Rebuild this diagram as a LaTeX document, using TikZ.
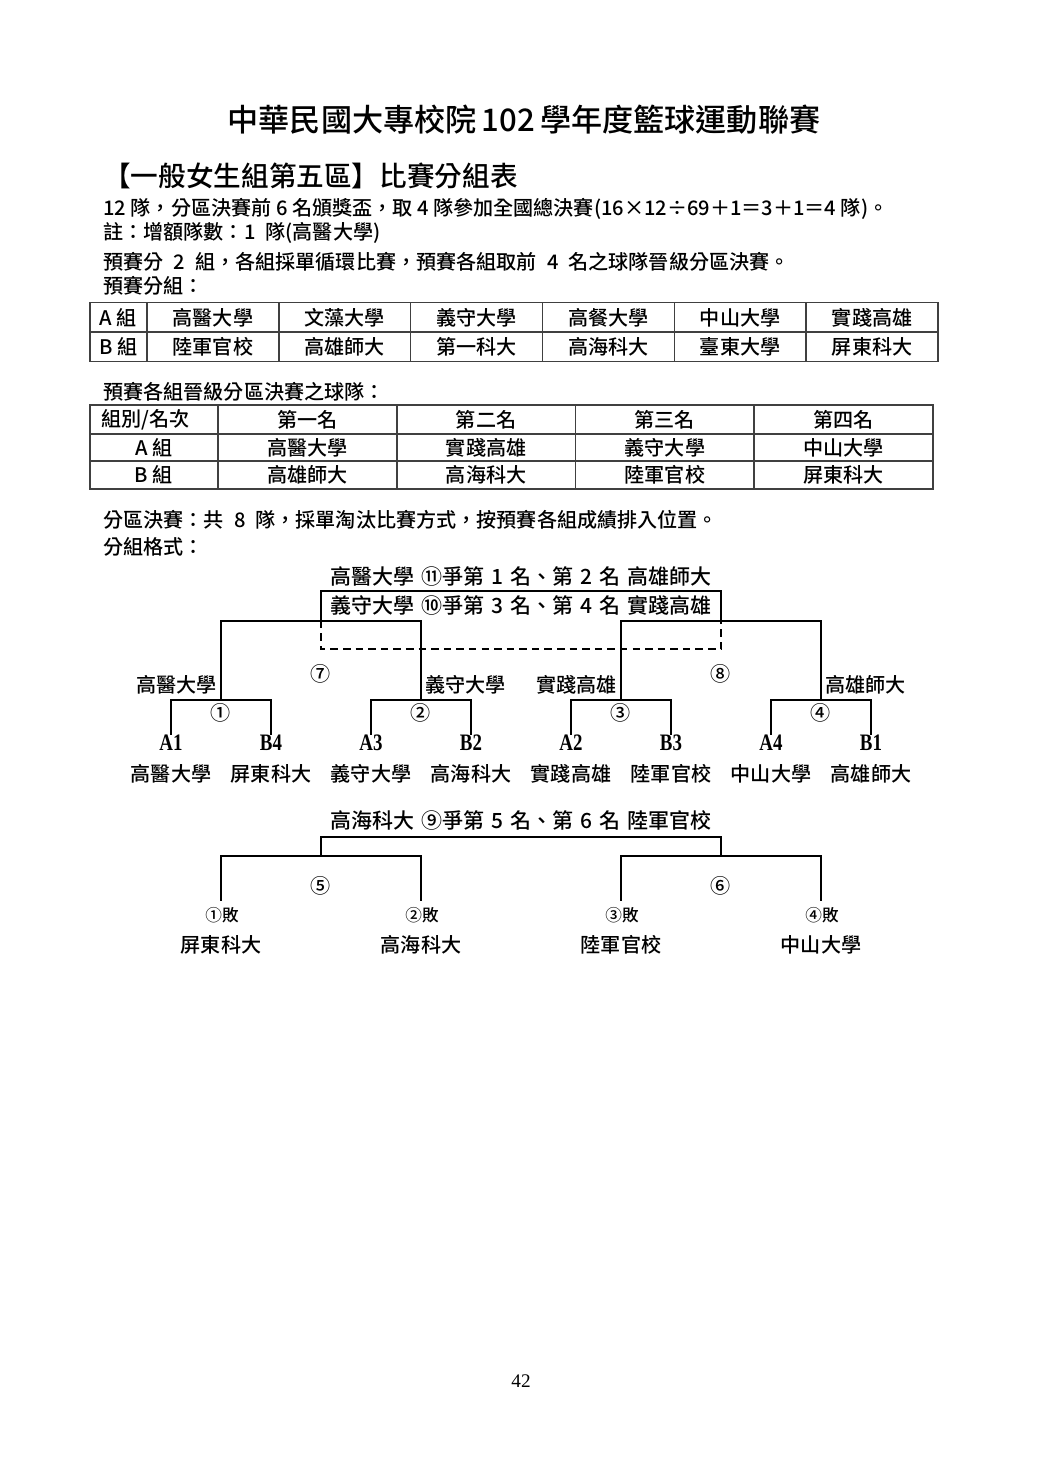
\documentclass[tikz,border=0pt]{standalone}
\usepackage{fontspec}
\setmainfont{Liberation Serif}
\newfontfamily\cjk{Noto Sans CJK TC Medium}
\newfontfamily\lat[FakeStretch=0.8]{Liberation Serif}
\newcommand{\gap}{\kern0.5em\relax}
\newcommand{\sgap}{\kern0.33em\relax}
\tikzset{
  txt/.style={inner sep=0pt, font=\cjk\fontsize{11.5}{14}\selectfont},
  lft/.style={txt, anchor=west},
  rgt/.style={txt, anchor=east},
  brtxt/.style={txt, font=\cjk\fontsize{12}{14}\selectfont},
  latn/.style={inner sep=0pt, font=\lat\bfseries\fontsize{13.5}{15}\selectfont},
  brk/.style={line width=1.1pt, line cap=rect},
  brkthick/.style={line width=1.7pt},
  tabline/.style={draw=black!75, line width=0.9pt},
  dashline/.style={line width=1.1pt, dash pattern=on 4.3pt off 2.9pt}
}
\begin{document}
\begin{tikzpicture}[x=0.572pt, y=-0.572pt]
\useasboundingbox (0,0) rectangle (1040,1473);
\fill[white] (0,0) rectangle (1040,1473);

% headings
\node[txt, font=\cjk\fontsize{17.8}{20}\selectfont] (title) at (524,120) {中華民國大專校院\,102\,學年度籃球運動聯賽};
\node[lft, font=\cjk\fontsize{15.8}{18}\selectfont] (head) at (103,176) {【一般女生組第五區】比賽分組表};
\node[lft] (l1) at (103,209) {12 隊，分區決賽前 6 名頒獎盃，取 4 隊參加全國總決賽(16×12÷69＋1＝3＋1＝4 隊)。};
\node[lft] (l2) at (103,233) {註：增額隊數：1\gap{}隊(高醫大學)};
\node[lft] (l3) at (103,262) {預賽分\gap{}2\gap{}組，各組採單循環比賽，預賽各組取前\gap{}4\gap{}名之球隊晉級分區決賽。};
\node[lft] (l4) at (103,286) {預賽分組：};

% table 1
\draw[tabline] (90,302.3) rectangle (938,361.7);
\draw[tabline] (90,332) -- (938,332);
\foreach \x in {147,278.8,410.7,542.5,674.3,806.2} \draw[tabline] (\x,302.3) -- (\x,361.7);
\node[txt] (ta) at (118.5,318) {A 組};
\node[txt] (tb) at (118.5,347) {B 組};
\node[txt] (ta1) at (212.9,318) {高醫大學};
\node[txt] (ta2) at (344.7,318) {文藻大學};
\node[txt] (ta3) at (476.6,318) {義守大學};
\node[txt] (ta4) at (608.4,318) {高餐大學};
\node[txt] (ta5) at (740.2,318) {中山大學};
\node[txt] (ta6) at (872.1,318) {實踐高雄};
\node[txt] (tb1) at (212.9,347) {陸軍官校};
\node[txt] (tb2) at (344.7,347) {高雄師大};
\node[txt] (tb3) at (476.6,347) {第一科大};
\node[txt] (tb4) at (608.4,347) {高海科大};
\node[txt] (tb5) at (740.2,347) {臺東大學};
\node[txt] (tb6) at (872.1,347) {屏東科大};

% table 2
\node[lft] (l5) at (103,392) {預賽各組晉級分區決賽之球隊：};
\draw[tabline] (90,405) rectangle (933,489);
\draw[tabline] (90,434) -- (933,434);
\draw[tabline] (90,461) -- (933,461);
\foreach \x in {218,396.75,575.5,754.25} \draw[tabline] (\x,405) -- (\x,489);
\node[lft] (h0) at (101,420) {組別/名次};
\node[txt] (h1) at (307.4,420) {第一名};
\node[txt] (h2) at (486.1,420) {第二名};
\node[txt] (h3) at (664.9,420) {第三名};
\node[txt] (h4) at (843.6,420) {第四名};
\node[txt] (ra) at (154,448) {A 組};
\node[txt] (ra1) at (307.4,448) {高醫大學};
\node[txt] (ra2) at (486.1,448) {實踐高雄};
\node[txt] (ra3) at (664.9,448) {義守大學};
\node[txt] (ra4) at (843.6,448) {中山大學};
\node[txt] (rb) at (154,475) {B 組};
\node[txt] (rb1) at (307.4,475) {高雄師大};
\node[txt] (rb2) at (486.1,475) {高海科大};
\node[txt] (rb3) at (664.9,475) {陸軍官校};
\node[txt] (rb4) at (843.6,475) {屏東科大};

\node[lft] (l6) at (103,520) {分區決賽：共\gap{}8\gap{}隊，採單淘汰比賽方式，按預賽各組成績排入位置。};
\node[lft] (l7) at (103,547) {分組格式：};

% main bracket coordinates
\coordinate (a1) at (171,734); \coordinate (b4) at (271,734);
\coordinate (a3) at (371,734); \coordinate (b2) at (471,734);
\coordinate (a2) at (571,734); \coordinate (b3) at (671,734);
\coordinate (a4) at (771,734); \coordinate (b1) at (871,734);
\coordinate (g1) at (221,700); \coordinate (g2) at (421,700);
\coordinate (g3) at (621,700); \coordinate (g4) at (821,700);
\coordinate (s7) at (321,620.7); \coordinate (s8) at (721,620.7);
\coordinate (f) at (521,590.7);
\coordinate (d7) at (321,649); \coordinate (d8) at (721,649);

% first round
\draw[brk] (a1) |- (g1) -| (b4);
\draw[brk] (a3) |- (g2) -| (b2);
\draw[brk] (a2) |- (g3) -| (b3);
\draw[brk] (a4) |- (g4) -| (b1);
\draw[brkthick] (a1 |- g1) -- (b4 |- g1);
\draw[brkthick] (a3 |- g2) -- (b2 |- g2);
\draw[brkthick] (a2 |- g3) -- (b3 |- g3);
\draw[brkthick] (a4 |- g4) -- (b1 |- g4);
% semis
\draw[brk] (g1) |- (s7) -| (g2);
\draw[brk] (g3) |- (s8) -| (g4);
% final
\draw[brk] (s7) |- (f) -| (s8);
\draw[dashline] (s7) -- (d7) -- (d8) -- (s8);

\node[brtxt] (t11) at (521,576) {高醫大學\sgap{}⑪爭第\sgap{}1\sgap{}名、第\sgap{}2\sgap{}名\sgap{}高雄師大};
\node[brtxt] (t10) at (521,605) {義守大學\sgap{}⑩爭第\sgap{}3\sgap{}名、第\sgap{}4\sgap{}名\sgap{}實踐高雄};
\node[txt] (n7) at (321,674) {⑦};
\node[txt] (n8) at (721,674) {⑧};
\node[rgt] (w1) at (217,685) {高醫大學};
\node[lft] (w2) at (425,685) {義守大學};
\node[rgt] (w3) at (617,685) {實踐高雄};
\node[lft] (w4) at (825,685) {高雄師大};
\node[txt] (n1) at (221,713) {①};
\node[txt] (n2) at (421,713) {②};
\node[txt] (n3) at (621,713) {③};
\node[txt] (n4) at (821,713) {④};
\node[latn] (la1) at (171,743) {A1};
\node[latn] (lb4) at (271,743) {B4};
\node[latn] (la3) at (371,743) {A3};
\node[latn] (lb2) at (471,743) {B2};
\node[latn] (la2) at (571,743) {A2};
\node[latn] (lb3) at (671,743) {B3};
\node[latn] (la4) at (771,743) {A4};
\node[latn] (lb1) at (871,743) {B1};
\node[txt] (e1) at (171,774) {高醫大學};
\node[txt] (e2) at (271,774) {屏東科大};
\node[txt] (e3) at (371,774) {義守大學};
\node[txt] (e4) at (471,774) {高海科大};
\node[txt] (e5) at (571,774) {實踐高雄};
\node[txt] (e6) at (671,774) {陸軍官校};
\node[txt] (e7) at (771,774) {中山大學};
\node[txt] (e8) at (871,774) {高雄師大};

% consolation bracket
\coordinate (c1) at (221,900); \coordinate (c2) at (421,900);
\coordinate (c3) at (621,900); \coordinate (c4) at (821,900);
\coordinate (m5) at (321,855.7); \coordinate (m6) at (721,855.7);
\coordinate (m9) at (521,836.7);
\draw[brk, line width=1.3pt] (c1) |- (m5) -| (c2);
\draw[brk, line width=1.3pt] (c3) |- (m6) -| (c4);
\draw[brk, line width=1.3pt] (m5) |- (m9) -| (m6);
\node[brtxt] (t9) at (521,820) {高海科大\sgap{}⑨爭第\sgap{}5\sgap{}名、第\sgap{}6\sgap{}名\sgap{}陸軍官校};
\node[txt] (n5) at (321,886) {⑤};
\node[txt] (n6) at (721,886) {⑥};
\node[txt, font=\cjk\fontsize{9.5}{11}\selectfont] (x1) at (222,915) {①敗};
\node[txt, font=\cjk\fontsize{9.5}{11}\selectfont] (x2) at (422,915) {②敗};
\node[txt, font=\cjk\fontsize{9.5}{11}\selectfont] (x3) at (622,915) {③敗};
\node[txt, font=\cjk\fontsize{9.5}{11}\selectfont] (x4) at (822,915) {④敗};
\node[txt] (y1) at (221,945) {屏東科大};
\node[txt] (y2) at (421,945) {高海科大};
\node[txt] (y3) at (621,945) {陸軍官校};
\node[txt] (y4) at (821,945) {中山大學};

\node[inner sep=0pt, font=\fontsize{11}{13}\selectfont] (pg) at (521,1381) {42};
\end{tikzpicture}
\end{document}
